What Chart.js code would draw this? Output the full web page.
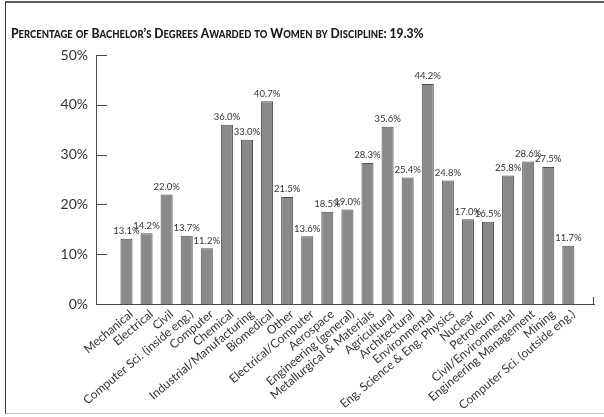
<!DOCTYPE html>
<html>
<head>
<meta charset="utf-8">
<script src="https://cdn.jsdelivr.net/npm/chart.js@4/dist/chart.umd.min.js"></script>
<style>
  html, body { margin: 0; padding: 0; background: #fff; }
  #wrap { position: relative; width: 604px; height: 417px; overflow: hidden; }
  #frame {
    position: absolute; left: 5px; top: 1px; width: 640px; height: 413px;
    box-sizing: border-box;
    border-top: 2px solid #5a5a5a;
    border-left: 1px solid #3a3a3a;
    border-bottom: 1px solid #c4c4c4;
    pointer-events: none;
  }
  canvas { position: absolute; left: 0; top: 0; }
</style>
</head>
<body>
<div id="wrap">
  <canvas id="chart" width="604" height="417"></canvas>
  <div id="frame"></div>
</div>
<script>
// Engineering disciplines, in plotted order
const disciplines = [
  'Mechanical', 'Electrical', 'Civil', 'Computer Sci. (inside eng.)', 'Computer',
  'Chemical', 'Industrial/Manufacturing', 'Biomedical', 'Other', 'Electrical/Computer',
  'Aerospace', 'Engineering (general)', 'Metallurgical & Materials', 'Agricultural',
  'Architectural', 'Environmental', 'Eng. Science & Eng. Physics', 'Nuclear', 'Petroleum',
  'Civil/Environmental', 'Engineering Management', 'Mining', 'Computer Sci. (outside eng.)'
];

// Share of bachelor's degrees awarded to women (%)
const womenShare = [
  13.1, 14.2, 22.0, 13.7, 11.2,
  36.0, 33.0, 40.7, 21.5, 13.6,
  18.5, 19.0, 28.3, 35.6,
  25.4, 44.2, 24.8, 17.0, 16.5,
  25.8, 28.6, 27.5, 11.7
];

// Y axis ticks (%)
const yTicks = [0, 10, 20, 30, 40, 50];

const chartTitle = "Percentage of Bachelor\u2019s Degrees Awarded to Women by Discipline: 19.3%";

const LABEL_FONT = "Lato, 'Noto Sans', sans-serif";
const TITLE_FONT = "Lato, 'DejaVu Sans', sans-serif";
const INK = '#333333';
const AXIS = '#4a4a4a';

// Draws text in small capitals: lowercase runs are upper-cased at a reduced size,
// with the whole line condensed horizontally
function fillSmallCaps(ctx, text, x, y, bigSize, smallSize, condense) {
  const runs = [];
  for (const ch of text) {
    const lower = ch !== ch.toUpperCase();
    const last = runs[runs.length - 1];
    if (last && last.lower === lower) last.s += ch;
    else runs.push({ lower, s: ch });
  }
  ctx.translate(x, y);
  ctx.scale(condense, 1);
  let cx = 0;
  runs.forEach(r => {
    ctx.font = '900 ' + (r.lower ? smallSize : bigSize) + 'px ' + TITLE_FONT;
    const s = r.lower ? r.s.toUpperCase() : r.s;
    ctx.fillText(s, cx, 0);
    cx += ctx.measureText(s).width;
  });
}

const smallCapsTitle = {
  id: 'smallCapsTitle',
  afterDraw(chart) {
    const ctx = chart.ctx;
    ctx.save();
    ctx.fillStyle = '#1a1a1a';
    ctx.textAlign = 'left';
    ctx.textBaseline = 'alphabetic';
    fillSmallCaps(ctx, chartTitle, 11, 37.5, 13.5, 10.5, 0.9);
    ctx.restore();
  }
};

// Value labels above bars, inward tick marks on the y axis, end tick on the x axis
const decorations = {
  id: 'decorations',
  afterDatasetsDraw(chart) {
    const ctx = chart.ctx;
    const meta = chart.getDatasetMeta(0);
    const ds = chart.data.datasets[0];
    ctx.save();
    ctx.fillStyle = INK;
    ctx.font = "9.5px " + LABEL_FONT;
    ctx.textAlign = 'center';
    ctx.textBaseline = 'bottom';
    meta.data.forEach((bar, i) => {
      const v = ds.data[i].y;
      ctx.fillText(v.toFixed(1) + '%', bar.x, bar.y - 3);
    });
    ctx.restore();
  },
  afterDraw(chart) {
    const ctx = chart.ctx;
    const y = chart.scales.y;
    const area = chart.chartArea;
    ctx.save();
    ctx.strokeStyle = AXIS;
    ctx.lineWidth = 1;
    ctx.beginPath();
    yTicks.forEach(t => {
      const py = Math.round(y.getPixelForValue(t)) + 0.5;
      ctx.moveTo(area.left, py);
      ctx.lineTo(area.left + 11, py);
    });
    const rx = Math.round(area.right) - 0.5;
    ctx.moveTo(rx, area.bottom);
    ctx.lineTo(rx, area.bottom - 7);
    ctx.stroke();
    ctx.restore();
  }
};

new Chart(document.getElementById('chart'), {
  type: 'bar',
  data: {
    datasets: [{
      data: disciplines.map((name, i) => ({ x: i + 1, y: womenShare[i] })),
      backgroundColor: '#898989',
      borderColor: '#4f4f4f',
      borderWidth: 1,
      barPercentage: 0.6,
      categoryPercentage: 1.0
    }]
  },
  options: {
    responsive: false,
    animation: false,
    devicePixelRatio: 1,
    layout: { padding: { left: 11, right: 10, top: 55, bottom: 0 } },
    plugins: {
      legend: { display: false },
      tooltip: { enabled: false },
      title: { display: false }
    },
    scales: {
      x: {
        type: 'linear',
        min: 0,
        max: 23.76,
        grid: { display: false, drawTicks: false },
        border: { display: true, color: AXIS, width: 1 },
        ticks: {
          stepSize: 1,
          autoSkip: false,
          includeBounds: false,
          minRotation: 40,
          maxRotation: 40,
          padding: 3,
          labelOffset: 5,
          color: INK,
          font: { family: LABEL_FONT, size: 12 },
          callback: (v) => (Number.isInteger(v) && v >= 1 && v <= disciplines.length) ? disciplines[v - 1] : ''
        },
        afterFit: (scale) => { scale.height = 113; }
      },
      y: {
        min: 0,
        max: 50,
        grid: { display: false, drawTicks: false },
        border: { display: true, color: AXIS, width: 1 },
        afterBuildTicks: (scale) => { scale.ticks = yTicks.map(v => ({ value: v })); },
        ticks: {
          padding: 8,
          color: INK,
          font: { family: LABEL_FONT, size: 14 },
          callback: (v) => v + '%'
        },
        afterFit: (scale) => { scale.width = 85; }
      }
    }
  },
  plugins: [decorations, smallCapsTitle]
});
</script>
</body>
</html>
